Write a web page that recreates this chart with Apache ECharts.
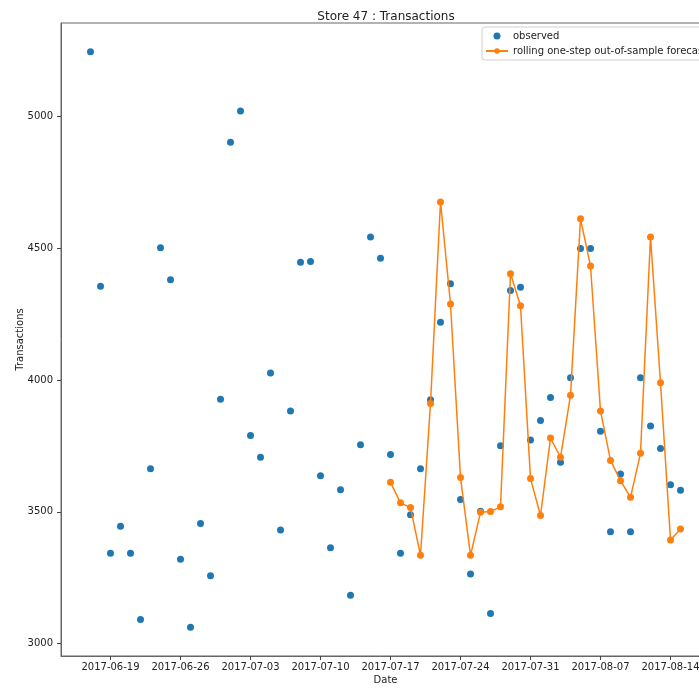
<!DOCTYPE html>
<html>
<head>
<meta charset="utf-8">
<script src="https://cdn.jsdelivr.net/npm/echarts@6/dist/echarts.min.js"></script>
<style>
html,body{margin:0;padding:0;background:#fff;}
#chart{width:699px;height:689px;}
</style>
</head>
<body>
<div id="chart"></div>
<script>
const dates = [
'2017-06-17','2017-06-18','2017-06-19','2017-06-20','2017-06-21','2017-06-22','2017-06-23','2017-06-24','2017-06-25','2017-06-26',
'2017-06-27','2017-06-28','2017-06-29','2017-06-30','2017-07-01','2017-07-02','2017-07-03','2017-07-04','2017-07-05','2017-07-06',
'2017-07-07','2017-07-08','2017-07-09','2017-07-10','2017-07-11','2017-07-12','2017-07-13','2017-07-14','2017-07-15','2017-07-16',
'2017-07-17','2017-07-18','2017-07-19','2017-07-20','2017-07-21','2017-07-22','2017-07-23','2017-07-24','2017-07-25','2017-07-26',
'2017-07-27','2017-07-28','2017-07-29','2017-07-30','2017-07-31','2017-08-01','2017-08-02','2017-08-03','2017-08-04','2017-08-05',
'2017-08-06','2017-08-07','2017-08-08','2017-08-09','2017-08-10','2017-08-11','2017-08-12','2017-08-13','2017-08-14','2017-08-15'
];
const observed = [
5246,4356,3343,3445,3343,3091,3663,4502,4381,3320,
3062,3456,3257,3927,4903,5021,3790,3707,4027,3431,
3883,4447,4450,3637,3364,3584,3183,3755,4543,4462,
3718,3343,3489,3663,3925,4219,4366,3547,3264,3502,
3114,3751,4340,4352,3773,3847,3934,3688,4009,4499,
4499,3806,3424,3644,3424,4009,3826,3740,3603,3582
];
const forecastDates = [
'2017-07-17','2017-07-18','2017-07-19','2017-07-20','2017-07-21','2017-07-22','2017-07-23','2017-07-24','2017-07-25','2017-07-26',
'2017-07-27','2017-07-28','2017-07-29','2017-07-30','2017-07-31','2017-08-01','2017-08-02','2017-08-03','2017-08-04','2017-08-05',
'2017-08-06','2017-08-07','2017-08-08','2017-08-09','2017-08-10','2017-08-11','2017-08-12','2017-08-13','2017-08-14','2017-08-15'
];
const forecast = [
3612,3534,3516,3335,3911,4676,4289,3630,3335,3498,
3501,3519,4404,4282,3626,3486,3780,3707,3942,4612,
4433,3883,3695,3618,3555,3722,4543,3990,3393,3435
];
const xTickLabels = ['2017-06-19','2017-06-26','2017-07-03','2017-07-10','2017-07-17','2017-07-24','2017-07-31','2017-08-07','2017-08-14'];
const yTicks = [3000,3500,4000,4500,5000];

// x positions are day numbers since epoch (UTC)
const DAY = 86400000;
const dayNum = s => Date.parse(s + 'T00:00:00Z') / DAY;
const dayStr = n => new Date(Math.round(n) * DAY).toISOString().slice(0,10);
const obsData = dates.map((d,i)=>[dayNum(d), observed[i]]);
const fcData = forecastDates.map((d,i)=>[dayNum(d), forecast[i]]);
const x0 = dayNum(dates[0]), x1 = dayNum(dates[dates.length-1]);
const xMin = x0 - (x1-x0)*0.05, xMax = x1 + (x1-x0)*0.05;
const yLo = Math.min(...observed, ...forecast), yHi = Math.max(...observed, ...forecast);
const yMin = yLo - (yHi-yLo)*0.05, yMax = yHi + (yHi-yLo)*0.05;
const xTickVals = xTickLabels.map(dayNum);

const FONT = 'DejaVu Sans';
const chart = echarts.init(document.getElementById('chart'), null, {renderer:'canvas'});
chart.setOption({
  animation: false,
  backgroundColor: '#fff',
  textStyle: {fontFamily: FONT},
  title: {
    text: 'Store 47 : Transactions',
    left: 381, top: 6, textAlign: 'center',
    textStyle: {fontFamily: FONT, fontSize: 12, fontWeight: 'normal', color: '#222'}
  },
  legend: {
    orient: 'vertical',
    left: 482, top: 27,
    padding: [1.5, 10, 1.5, 3],
    itemGap: 0,
    itemWidth: 22, itemHeight: 7,
    borderColor: '#d0d0d0', borderWidth: 1, borderRadius: 3,
    backgroundColor: 'rgba(255,255,255,0.8)',
    textStyle: {fontFamily: FONT, fontSize: 10, color: '#222', lineHeight: 15},
    data: [{name:'observed', icon:'circle'}, {name:'rolling one-step out-of-sample forecast'}]
  },
  grid: {
    left: 61, top: 23, width: 649, height: 633,
    outerBoundsMode: 'none', containLabel: false,
    show: true, borderColor: '#666', borderWidth: 1, backgroundColor: 'transparent'
  },
  xAxis: {
    type: 'value', min: xMin, max: xMax, scale: true,
    name: 'Date', nameLocation: 'middle', nameGap: 19, nameMoveOverlap: false,
    nameTextStyle: {fontFamily: FONT, fontSize: 10, color: '#222'},
    axisLine: {show: true, onZero: false, lineStyle: {color: '#666', width: 1}},
    axisTick: {show: true, length: 4, inside: false, lineStyle: {color: '#444'}, customValues: xTickVals},
    axisLabel: {fontFamily: FONT, fontSize: 10, color: '#222', margin: 6, customValues: xTickVals,
      formatter: v => dayStr(v)},
    splitLine: {show: false}
  },
  yAxis: {
    type: 'value', min: yMin, max: yMax, scale: true,
    name: 'Transactions', nameLocation: 'middle', nameGap: 36, nameRotate: 90, nameMoveOverlap: false,
    nameTextStyle: {fontFamily: FONT, fontSize: 10, color: '#222'},
    axisLine: {show: true, onZero: false, lineStyle: {color: '#666', width: 1}},
    axisTick: {show: true, length: 4, inside: false, lineStyle: {color: '#444'}, customValues: yTicks},
    axisLabel: {fontFamily: FONT, fontSize: 10, color: '#222', margin: 8, customValues: yTicks,
      formatter: v => String(v)},
    splitLine: {show: false}
  },
  series: [
    {
      name: 'observed', type: 'scatter', data: obsData,
      symbol: 'circle', symbolSize: 7,
      itemStyle: {color: '#1f77b4', opacity: 1}
    },
    {
      name: 'rolling one-step out-of-sample forecast', type: 'line', data: fcData,
      symbol: 'circle', symbolSize: 7, showAllSymbol: true,
      lineStyle: {color: '#ff7f0e', width: 1.5},
      itemStyle: {color: '#ff7f0e', borderWidth: 0}
    }
  ]
});
</script>
</body>
</html>
